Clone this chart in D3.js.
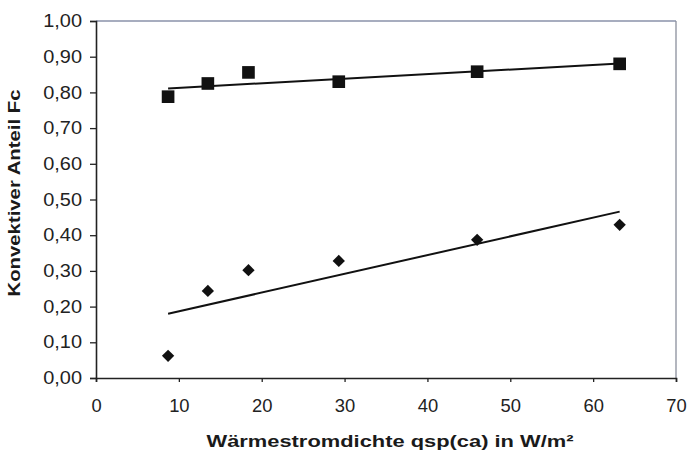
<!DOCTYPE html>
<html>
<head>
<meta charset="utf-8">
<script src="https://cdn.jsdelivr.net/npm/d3@7"></script>
<style>
  html, body { margin: 0; padding: 0; background: #fff; }
  svg { display: block; }
  text { font-family: "Liberation Sans", Arial, sans-serif; }
</style>
</head>
<body>
<svg id="chart" width="689" height="457"></svg>
<script>
// ---- data ----
const xValues = [8.7, 13.5, 18.4, 29.3, 46.0, 63.2];
const squareValues = [0.788, 0.825, 0.856, 0.830, 0.858, 0.880];
const diamondValues = [0.062, 0.244, 0.302, 0.328, 0.387, 0.429];
const squareTrendX = [8.7, 63.2];
const squareTrendY = [0.811, 0.881];
const diamondTrendX = [8.7, 63.2];
const diamondTrendY = [0.180, 0.466];
const xTicks = [0, 10, 20, 30, 40, 50, 60, 70];
const yTicks = [0, 0.1, 0.2, 0.3, 0.4, 0.5, 0.6, 0.7, 0.8, 0.9, 1.0];
const xTitle = "Wärmestromdichte qsp(ca) in W/m²";
const yTitle = "Konvektiver Anteil Fc";

// ---- layout ----
const pLeft = 96, pRight = 676, pTop = 21, pBottom = 378;
const svg = d3.select("#chart");
const x = d3.scaleLinear().domain([0, 70]).range([pLeft, pRight]);
const y = d3.scaleLinear().domain([0, 1]).range([pBottom, pTop]);
const fmt = v => d3.format(".2f")(v).replace(".", ",");

// plot frame (top & right, light)
svg.append("line").attr("x1", pLeft).attr("x2", pRight).attr("y1", pTop).attr("y2", pTop)
  .attr("stroke", "#8a92aa").attr("stroke-width", 1.3);
svg.append("line").attr("x1", pRight).attr("x2", pRight).attr("y1", pTop).attr("y2", pBottom)
  .attr("stroke", "#8a8f9c").attr("stroke-width", 1.3);

// axes
const yAxis = d3.axisLeft(y).tickValues(yTicks).tickFormat(fmt).tickSize(6).tickPadding(8);
const gy = svg.append("g").attr("transform", `translate(${pLeft},0)`).call(yAxis);
const xAxis = d3.axisBottom(x).tickValues(xTicks).tickFormat(d3.format("d")).tickSize(4).tickPadding(18);
const gx = svg.append("g").attr("transform", `translate(0,${pBottom})`).call(xAxis);

[gx, gy].forEach(g => {
  g.select(".domain").attr("stroke", "#222").attr("stroke-width", 1.6);
  g.selectAll(".tick line").attr("stroke", "#222").attr("stroke-width", 1.3);
  g.selectAll(".tick text").attr("fill", "#222").style("font-size", "17.5px")
    .style("font-family", '"Liberation Sans", Arial, sans-serif');
});
gy.selectAll(".tick text").attr("x", 0).attr("transform", "translate(-14,0) scale(1.14,1)");
gx.selectAll(".tick text").attr("transform", "scale(1.05,1)");

// titles
svg.append("text").attr("x", 390).attr("y", 447).attr("text-anchor", "middle")
  .attr("textLength", 367).attr("lengthAdjust", "spacingAndGlyphs")
  .style("font-size", "16.5px").style("font-weight", "bold").attr("fill", "#1a1a1a")
  .text(xTitle);
svg.append("text").attr("transform", "translate(20,193) rotate(-90)").attr("text-anchor", "middle")
  .attr("textLength", 207).attr("lengthAdjust", "spacingAndGlyphs")
  .style("font-size", "16.5px").style("font-weight", "bold").attr("fill", "#1a1a1a")
  .text(yTitle);

// trend lines
const line = d3.line().x(d => x(d[0])).y(d => y(d[1]));
svg.append("path").datum(d3.zip(squareTrendX, squareTrendY)).attr("d", line)
  .attr("fill", "none").attr("stroke", "#111").attr("stroke-width", 2);
svg.append("path").datum(d3.zip(diamondTrendX, diamondTrendY)).attr("d", line)
  .attr("fill", "none").attr("stroke", "#111").attr("stroke-width", 2);

// markers
const sq = d3.symbol().type(d3.symbolSquare).size(160);
svg.append("g").selectAll("path").data(d3.zip(xValues, squareValues)).join("path")
  .attr("d", sq).attr("transform", d => `translate(${x(d[0])},${y(d[1])})`).attr("fill", "#111");
svg.append("g").selectAll("path").data(d3.zip(xValues, diamondValues)).join("path")
  .attr("d", d3.symbol().type(d3.symbolSquare).size(76))
  .attr("transform", d => `translate(${x(d[0])},${y(d[1])}) rotate(45)`).attr("fill", "#111");
</script>
</body>
</html>
